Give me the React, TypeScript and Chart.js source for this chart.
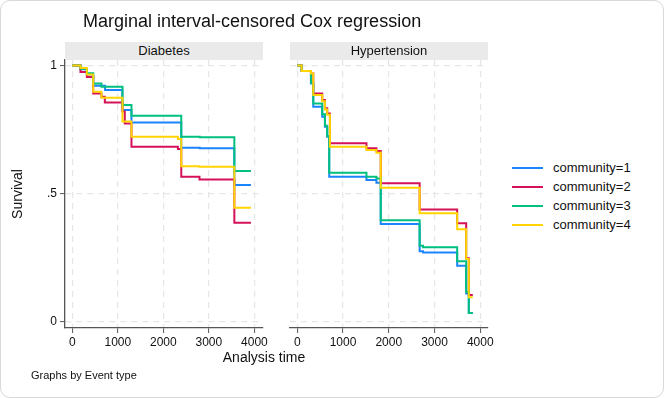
import React, { useEffect, useRef } from "react";
import { Chart, registerables } from "chart.js";

Chart.register(...registerables);

const chartTitle = "Marginal interval-censored Cox regression";
const xAxisTitle = "Analysis time";
const yAxisTitle = "Survival";
const noteText = "Graphs by Event type";
const panelTitles = ["Diabetes", "Hypertension"];
const seriesLabels = ["community=1", "community=2", "community=3", "community=4"];
const seriesColors = ["#1a85ff", "#d41159", "#00bf7f", "#ffd400"];
const xTicks = [0, 1000, 2000, 3000, 4000];
const yTicks = [0, 0.5, 1];
const yTickLabels = ["0", ".5", "1"];

// Diabetes panel
const diabTime1 = [0, 180, 320, 460, 720, 1100, 1300, 2394, 2800, 3560, 3925];
const diabSurv1 = [1, 0.985, 0.965, 0.921, 0.904, 0.826, 0.777, 0.679, 0.677, 0.533, 0.533];
const diabTime2 = [0, 180, 320, 460, 640, 715, 1103, 1153, 1300, 2320, 2394, 2794, 3560, 3925];
const diabSurv2 = [1, 0.975, 0.955, 0.891, 0.878, 0.856, 0.82, 0.774, 0.683, 0.674, 0.566, 0.555, 0.386, 0.386];
const diabTime3 = [0, 180, 320, 460, 640, 1103, 1300, 2394, 2800, 3560, 3925];
const diabSurv3 = [1, 0.987, 0.97, 0.93, 0.917, 0.846, 0.804, 0.722, 0.72, 0.588, 0.588];
const diabTime4 = [0, 180, 320, 460, 640, 1103, 1300, 2320, 2394, 2794, 3560, 3925];
const diabSurv4 = [1, 0.99, 0.965, 0.898, 0.874, 0.781, 0.722, 0.713, 0.607, 0.605, 0.445, 0.445];

// Hypertension panel
const hypTime1 = [0, 95, 298, 349, 545, 604, 654, 698, 1512, 1730, 1824, 2675, 2750, 3496, 3693, 3750, 3837];
const hypSurv1 = [1, 0.979, 0.93, 0.839, 0.8, 0.761, 0.722, 0.566, 0.553, 0.542, 0.381, 0.275, 0.27, 0.218, 0.11, 0.034, 0.034];
const hypTime2 = [0, 95, 298, 349, 545, 604, 654, 713, 1512, 1730, 1824, 2675, 3496, 3693, 3750, 3837];
const hypSurv2 = [1, 0.979, 0.969, 0.891, 0.865, 0.833, 0.813, 0.696, 0.677, 0.666, 0.54, 0.438, 0.384, 0.247, 0.104, 0.104];
const hypTime3 = [0, 95, 298, 349, 545, 604, 654, 698, 1512, 1730, 1824, 2675, 2750, 3496, 3693, 3750, 3837];
const hypSurv3 = [1, 0.979, 0.933, 0.852, 0.81, 0.765, 0.725, 0.581, 0.566, 0.559, 0.396, 0.296, 0.29, 0.236, 0.116, 0.034, 0.034];
const hypTime4 = [0, 95, 298, 349, 545, 604, 654, 713, 1512, 1730, 1824, 2675, 3496, 3693, 3750, 3837];
const hypSurv4 = [1, 0.979, 0.969, 0.885, 0.86, 0.828, 0.808, 0.683, 0.67, 0.659, 0.523, 0.423, 0.361, 0.244, 0.095, 0.095];

const panels = [
  { times: [diabTime1, diabTime2, diabTime3, diabTime4], survs: [diabSurv1, diabSurv2, diabSurv3, diabSurv4] },
  { times: [hypTime1, hypTime2, hypTime3, hypTime4], survs: [hypSurv1, hypSurv2, hypSurv3, hypSurv4] },
];

const FONT = "'Liberation Sans', Arial, Helvetica, sans-serif";
const AXIS_COLOR = "#555555";
const GRID_COLOR = "#e6e6e6";

function buildConfig(panelIndex: number): any {
  const p = panels[panelIndex];
  const isLeft = panelIndex === 0;
  const datasets = p.times.map((t, i) => ({
    label: seriesLabels[i],
    data: t.map((x, j) => ({ x, y: p.survs[i][j] })),
    borderColor: seriesColors[i],
    backgroundColor: seriesColors[i],
    borderWidth: 2,
    pointRadius: 0,
    stepped: "before",
    fill: false,
    order: seriesLabels.length - 1 - i,
  }));
  return {
    type: "line",
    data: { datasets },
    options: {
      animation: false,
      responsive: false,
      maintainAspectRatio: false,
      events: [],
      layout: {
        padding: isLeft
          ? { left: 0, top: 60, right: 7, bottom: 0 }
          : { left: 20, top: 60, right: 12, bottom: 0 },
      },
      plugins: {
        legend: { display: false },
        tooltip: { enabled: false },
        title: { display: false },
      },
      scales: {
        x: {
          type: "linear",
          min: -160,
          max: 4170,
          afterBuildTicks: (s: any) => {
            s.ticks = xTicks.map((v) => ({ value: v }));
          },
          afterFit: (s: any) => {
            s.height = 32;
          },
          ticks: {
            autoSkip: false,
            maxRotation: 0,
            padding: 2,
            color: "#111111",
            font: { family: FONT, size: 12 },
            callback: (v: any) => String(v),
          },
          grid: {
            color: GRID_COLOR,
            lineWidth: 1.2,
            tickLength: 5,
            tickColor: AXIS_COLOR,
            tickWidth: 1,
            tickBorderDash: [],
          },
          border: { display: true, color: AXIS_COLOR, width: 1.3, dash: [6, 5] },
        },
        y: {
          type: "linear",
          min: -0.025,
          max: 1.0215,
          afterBuildTicks: (s: any) => {
            s.ticks = yTicks.map((v) => ({ value: v }));
          },
          afterFit: (s: any) => {
            s.width = isLeft ? 65 : 0;
          },
          ticks: {
            display: isLeft,
            padding: 3,
            color: "#111111",
            font: { family: FONT, size: 12 },
            callback: (v: any) => {
              const k = yTicks.indexOf(v);
              return k >= 0 ? yTickLabels[k] : "";
            },
          },
          grid: {
            color: GRID_COLOR,
            lineWidth: 1.2,
            drawTicks: isLeft,
            tickLength: 5,
            tickColor: AXIS_COLOR,
            tickWidth: 1,
            tickBorderDash: [],
          },
          border: { display: isLeft, color: AXIS_COLOR, width: 1.3, dash: [6, 5] },
          title: {
            display: isLeft,
            text: yAxisTitle,
            color: "#111111",
            font: { family: FONT, size: 14 },
            padding: { top: 10, bottom: 0 },
          },
        },
      },
    },
  };
}

function Panel({ index, left, width, height }: { index: number; left: number; width: number; height: number }) {
  const ref = useRef<HTMLCanvasElement | null>(null);
  useEffect(() => {
    if (!ref.current) return;
    const chart = new Chart(ref.current, buildConfig(index));
    return () => chart.destroy();
  }, [index]);
  return (
    <canvas
      ref={ref}
      width={width}
      height={height}
      style={{ position: "absolute", left, top: 0, width, height }}
    />
  );
}

export default function App() {
  useEffect(() => {
    Chart.defaults.font.family = FONT;
  }, []);
  const stripStyle = (left: number): React.CSSProperties => ({
    position: "absolute",
    left,
    top: 42,
    width: 198,
    height: 18,
    background: "#eaeaea",
    fontSize: 13,
    lineHeight: "18px",
    textAlign: "center",
    color: "#111",
  });
  return (
    <div
      style={{
        position: "absolute",
        left: 0,
        top: 0,
        width: 664,
        height: 398,
        background: "#ffffff",
        border: "1px solid #d9d9d9",
        borderRadius: 10,
        boxSizing: "border-box",
        overflow: "hidden",
        fontFamily: FONT,
      }}
    >
      <div style={{ position: "absolute", left: -1, top: -1, width: 664, height: 398 }}>
        <Panel index={0} left={0} width={270} height={360} />
        <Panel index={1} left={270} width={230} height={360} />
        <div style={stripStyle(65)}>{panelTitles[0]}</div>
        <div style={stripStyle(290)}>{panelTitles[1]}</div>
        <div style={{ position: "absolute", left: 83, top: 10, fontSize: 18, lineHeight: "22px", color: "#111", whiteSpace: "nowrap" }}>
          {chartTitle}
        </div>
        <div style={{ position: "absolute", left: 0, width: 528, top: 349, fontSize: 14, lineHeight: "16px", textAlign: "center", color: "#111" }}>
          {xAxisTitle}
        </div>
        <div style={{ position: "absolute", left: 31, top: 369, fontSize: 11, lineHeight: "13px", color: "#111", whiteSpace: "nowrap" }}>
          {noteText}
        </div>
        {seriesLabels.map((lab, i) => (
          <React.Fragment key={lab}>
            <div
              style={{
                position: "absolute",
                left: 512,
                top: 166.5 + i * 19,
                width: 31,
                height: 2,
                background: seriesColors[i],
              }}
            />
            <div
              style={{
                position: "absolute",
                left: 553,
                top: 159.5 + i * 19,
                fontSize: 13,
                lineHeight: "16px",
                color: "#111",
                whiteSpace: "nowrap",
              }}
            >
              {lab}
            </div>
          </React.Fragment>
        ))}
      </div>
    </div>
  );
}
